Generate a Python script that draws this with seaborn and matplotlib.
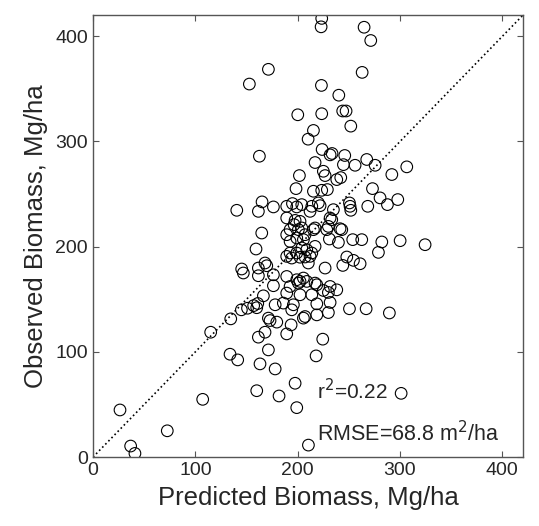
import numpy as np
import pandas as pd
import matplotlib
matplotlib.use('Agg')
import matplotlib.pyplot as plt
import seaborn as sns

# predicted vs observed biomass (Mg/ha)
predicted = [
    223.5, 222.9, 264.9, 271.4, 171.4, 152.8, 263.0, 223.2, 240.2, 244.0, 247.3, 200.1,
    223.5, 251.9, 215.4, 210.2, 223.9, 231.7, 233.6, 246.0, 267.5, 217.0, 162.6,
    244.7, 256.1, 275.7, 306.6, 292.0, 201.7, 225.1, 226.8, 238.2, 242.1, 198.4,
    215.4, 223.5, 229.0, 273.1, 280.5, 287.7, 297.8, 268.5, 250.6, 251.2, 251.9,
    165.2, 161.6, 140.5, 176.3, 189.3, 194.9, 199.1, 204.0, 213.8, 212.1, 220.2,
    221.9, 234.9,
    189.3, 197.5, 196.5, 192.6, 200.7, 164.9, 189.3, 199.1, 205.6, 192.6, 231.7,
    233.3, 202.3, 204.0, 217.0, 215.4, 230.0, 228.4, 241.4, 243.1, 207.2, 231.0,
    239.8, 253.8, 262.6, 282.2, 300.1, 324.5, 217.0, 159.3, 204.0, 208.9,
    192.6, 199.1, 194.2, 202.3, 207.2, 189.3, 213.8, 212.1, 278.9, 248.0, 254.5,
    261.0, 244.1, 210.4, 226.8, 145.3, 146.9, 161.6, 161.6, 168.1, 169.8, 176.3,
    189.3, 199.1, 205.6, 192.6, 200.7, 176.3, 208.9, 218.7, 217.0, 202.3,
    231.7, 238.2, 225.1, 230.0, 213.8, 202.3, 166.5, 189.3, 186.0, 195.8, 178.0,
    145.0, 151.0, 157.0, 160.0, 161.0, 194.2, 218.7, 231.7, 250.6, 266.9, 289.6,
    230.0, 218.7, 207.2, 134.6, 171.4, 173.0, 179.6, 205.6,
    115.0, 133.9, 141.4, 168.1, 161.6, 189.3, 193.6, 171.4, 163.2, 178.0, 160.0,
    181.8, 197.5, 199.1, 224.5, 218.0, 301.1, 210.5, 26.4, 36.8, 41.0, 72.6, 107.2,
]
observed = [
    417.0, 409.0, 408.6, 396.0, 368.6, 354.6, 365.7, 353.3, 344.0, 329.0, 329.0, 325.4,
    326.4, 314.6, 310.5, 302.2, 292.4, 287.3, 288.6, 286.7, 282.9, 280.0, 286.0,
    278.0, 277.4, 277.4, 275.9, 268.6, 267.6, 271.7, 267.6, 263.8, 265.7, 255.2,
    252.7, 253.6, 254.3, 255.2, 246.4, 240.0, 244.8, 238.4, 241.6, 238.4, 234.6,
    242.6, 233.6, 234.6, 237.8, 238.4, 241.0, 237.8, 240.0, 238.4, 233.6, 241.6,
    239.0, 235.2,
    227.3, 225.0, 221.0, 216.2, 216.2, 213.0, 211.4, 208.3, 206.7, 205.0, 227.3,
    225.7, 224.1, 217.8, 217.8, 216.2, 219.3, 216.2, 217.1, 216.2, 211.4, 207.3,
    204.1, 206.7, 206.7, 204.5, 205.7, 201.9, 200.3, 197.8, 198.8, 197.1,
    194.0, 194.0, 189.2, 190.0, 190.2, 190.8, 194.0, 190.8, 194.6, 190.2, 187.0,
    183.8, 182.2, 184.5, 179.7, 178.8, 175.0, 179.7, 172.4, 184.5, 181.9, 173.3,
    171.7, 168.6, 170.2, 162.2, 165.4, 162.9, 167.0, 163.8, 165.4, 167.0,
    162.2, 159.0, 158.4, 156.5, 154.3, 154.3, 153.3, 155.9, 146.4, 144.8, 144.8,
    140.0, 141.5, 144.0, 142.0, 146.0, 140.0, 145.7, 147.0, 141.0, 141.0, 137.0,
    137.4, 135.2, 133.6, 131.4, 132.1, 129.8, 128.3, 132.1,
    118.7, 97.8, 92.4, 118.7, 114.0, 117.1, 125.7, 101.9, 88.6, 83.8, 63.1,
    58.1, 70.2, 47.0, 112.1, 96.2, 60.6, 11.4, 44.8, 10.5, 3.5, 25.0, 54.9,
]
ticks = [0, 100, 200, 300, 400]
axis_max = 420

df = pd.DataFrame({'predicted': predicted, 'observed': observed})

sns.set_style('ticks')
plt.rcParams['font.family'] = ['Liberation Sans', 'DejaVu Sans']

fig = plt.figure(figsize=(5.39, 5.26), dpi=100)
ax = fig.add_axes([0.1725, 0.131, 0.7975, 0.84])

sns.scatterplot(data=df, x='predicted', y='observed', ax=ax, marker='o', s=70,
                facecolors='none', edgecolor='black', linewidth=0.8, legend=False)
# 1:1 line
ax.axline((0, 0), slope=1, color='black', linestyle=':', linewidth=1.2)

ax.set_xlim(0, axis_max)
ax.set_ylim(0, axis_max)
ax.set_xticks(ticks)
ax.set_yticks(ticks)
ax.tick_params(direction='in', length=4, width=0.8, labelsize=14, color='#555555',
               top=True, right=True)
for sp in ax.spines.values():
    sp.set_color('#555555')
    sp.set_linewidth(1.0)

ax.set_xlabel('Predicted Biomass, Mg/ha', fontsize=18.5, labelpad=5)
ax.set_ylabel('Observed Biomass, Mg/ha', fontsize=18.5, labelpad=5)

ax.text(219, 55, 'r$^2$=0.22', fontsize=15)
ax.text(219, 15, 'RMSE=68.8 m$^2$/ha', fontsize=15.5)

fig.savefig('out.png', dpi=100)
